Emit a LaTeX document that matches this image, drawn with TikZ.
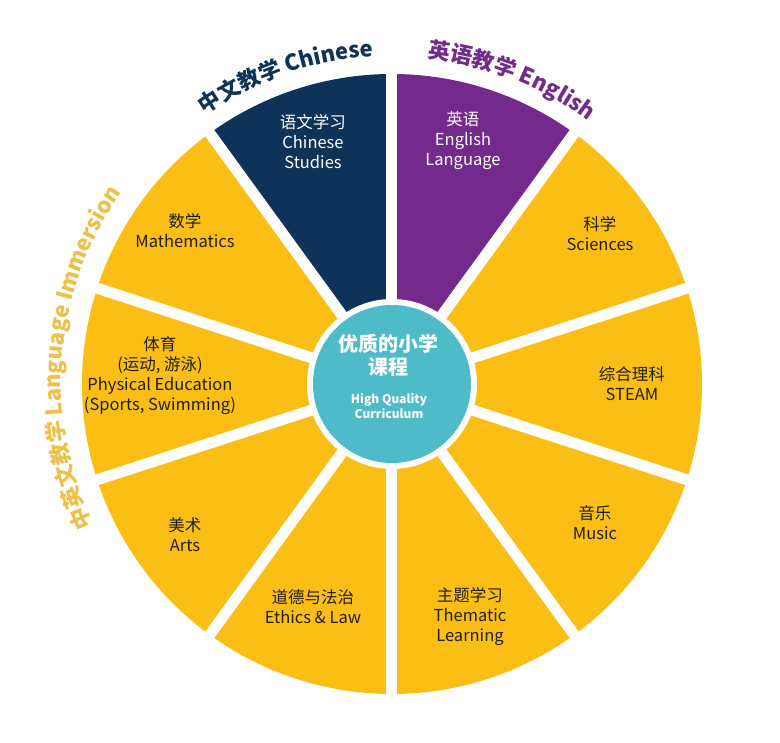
\documentclass[tikz,border=0pt]{standalone}
\usepackage{fontspec}
\setmainfont{Noto Sans CJK SC}
\usetikzlibrary{decorations.text}
\definecolor{cyellow}{HTML}{FABE14}
\definecolor{cnavy}{HTML}{0F3358}
\definecolor{cpurple}{HTML}{742A8C}
\definecolor{cteal}{HTML}{4EBBC9}
\definecolor{ctext}{HTML}{221E1A}
\definecolor{clabely}{HTML}{EDC04A}
\tikzset{
  seglabel/.style={align=center, font=\fontsize{16.5}{20}\selectfont, text=ctext},
  seglabelw/.style={seglabel, text=white},
  gapline/.style={white, line width=11pt},
}
\begin{document}
\begin{tikzpicture}[x=1pt,y=1pt]
\useasboundingbox (-392,-359) rectangle (388,384);
\fill[white] (-392,-359) rectangle (388,384);
% sectors
\foreach \a/\c in {18/cyellow,54/cpurple,90/cnavy,126/cyellow,162/cyellow,198/cyellow,234/cyellow,270/cyellow,306/cyellow,342/cyellow}{
  \fill[\c] (0,0) -- (\a:310) arc[start angle=\a, end angle=\a+36, radius=310] -- cycle;
}
% white gaps
\foreach \a in {18,54,90,126,162,198,234,270,306,342}{
  \coordinate (g\a) at (\a:330);
  \coordinate (o) at (0,0);
  \draw[gapline] (o) -- (g\a);
}
% centre
\node[circle, fill=white, minimum size=170pt, inner sep=0pt] (ring) at (0,0) {};
\node[circle, fill=cteal, minimum size=158pt, inner sep=0pt] (hub) at (0,0) {};
\node[align=center, text=white, font=\bfseries\fontsize{20}{23}\selectfont] (hubcn) at (-3,28.5) {优质的小学\\课程};
\node[align=center, text=white, font=\bfseries\fontsize{12}{14.5}\selectfont] (huben) at (-3,-22) {High Quality\\Curriculum};
% segment labels
\node[seglabelw] (chinese) at (-79,242) {语文学习\\Chinese\\Studies};
\node[seglabelw] (english) at (71,243) {英语\\English\\Language};
\node[seglabel] (math) at (-207,153.5) {数学\\Mathematics};
\node[seglabel] (sci) at (208,150) {科学\\Sciences};
\node[seglabel] (pe) at (-232,8) {体育\\(运动, 游泳)\\Physical Education\\(Sports, Swimming)};
\node[seglabel] (steam) at (240,0.5) {综合理科\\STEAM};
\node[seglabel] (arts) at (-207,-151) {美术\\Arts};
\node[seglabel] (music) at (203,-139) {音乐\\Music};
\node[seglabel] (ethics) at (-79,-223) {道德与法治\\Ethics \& Law};
\node[seglabel] (thematic) at (78,-233) {主题学习\\Thematic\\Learning};
% curved headings
\path[decorate, decoration={text along path, text color=cnavy, text align=center,
  text={|\bfseries\fontsize{22}{22}\selectfont|中文教学 Chinese}}]
  (140:328) arc[start angle=140, end angle=78, radius=328];
\path[decorate, decoration={text along path, text color=cpurple, text align=center,
  text={|\bfseries\fontsize{22}{22}\selectfont|英语教学 English}}]
  (100:328) arc[start angle=100, end angle=37, radius=328];
\path[decorate, decoration={text along path, text color=clabely, text align=center,
  text={|\bfseries\fontsize{22}{22}\selectfont|中英文教学 Language Immersion}}]
  (215:331) arc[start angle=215, end angle=135, radius=331];
\end{tikzpicture}
\end{document}
